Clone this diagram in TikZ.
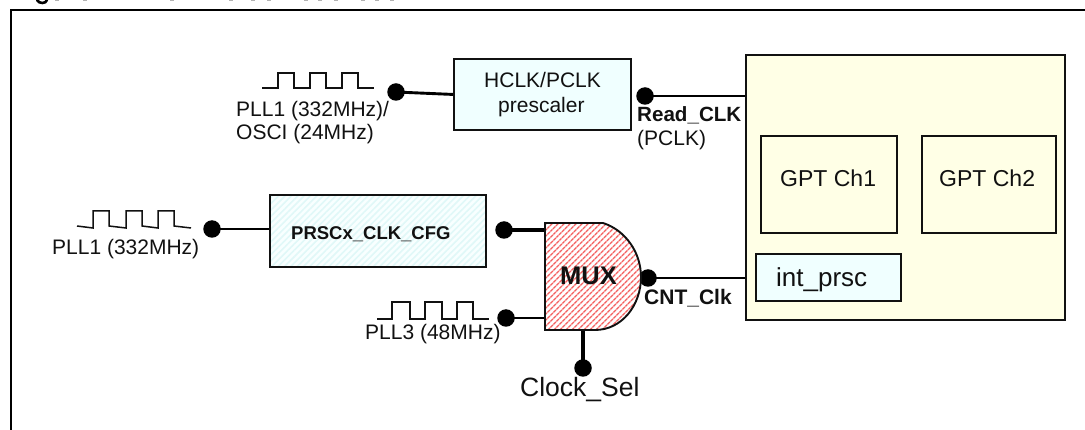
\documentclass[tikz,border=0pt]{standalone}
\usepackage{fontspec}
\setmainfont{Liberation Sans}
\usetikzlibrary{patterns.meta}
\definecolor{boxcyan}{HTML}{F0FFFF}
\definecolor{hatchcyan}{HTML}{E0F8F8}
\definecolor{boxyellow}{HTML}{FFFFE6}
\definecolor{hatchred}{HTML}{F4605F}
\definecolor{lineblack}{HTML}{111111}
\tikzset{
  x=1pt,y=-1pt,
  plainbox/.style={draw=lineblack,line width=1.9pt,inner sep=0pt,anchor=north west},
  dot/.style={circle,fill=black,inner sep=0pt,minimum size=17.5pt},
  wire/.style={line width=2.9pt,black},
  wave/.style={line width=1.5pt,lineblack},
  lbl/.style={inner sep=0pt,anchor=base west,text=lineblack,font=\fontsize{21}{24}\selectfont},
  blbl/.style={lbl,font=\fontsize{20.6}{24}\selectfont\bfseries},
}
\begin{document}
\begin{tikzpicture}
\useasboundingbox (0,0) rectangle (1085,430);
\clip (0,0) rectangle (1085,430);
% clipped remains of the caption line above the frame
\draw[line width=2.6pt,black,line cap=round] (37,0) .. controls (39,4) and (46,4) .. (47,0);
\foreach \tx in {57,85,172,231,253,269,306,320,336,363,377,392}
  \draw[line width=1.4pt,black!30] (\tx-2,0) -- (\tx+2,0);
% outer frame
\draw[line width=2.4pt,black] (11,431) -- (11,10) -- (1086,10);
% boxes
\node[plainbox,fill=boxyellow,minimum width=319pt,minimum height=265pt] (gpt) at (745,54) {};
\node[plainbox,minimum width=136pt,minimum height=97pt] (ch1) at (760,135) {};
\node[plainbox,minimum width=134pt,minimum height=97pt] (ch2) at (921,135) {};
\node[plainbox,fill=boxcyan,minimum width=145pt,minimum height=47pt] (prsc) at (755,253) {};
\node[plainbox,fill=boxcyan,minimum width=177pt,minimum height=71pt] (hclk) at (453,58) {};
\node[plainbox,preaction={fill=boxcyan!50!white},preaction={pattern={Lines[angle=45,distance=4.5pt,line width=1.6pt]},pattern color=hatchcyan},minimum width=216pt,minimum height=72pt] (cfg) at (269,194) {};
\node[inner sep=0pt,anchor=north west,minimum width=96pt,minimum height=107pt] (mux) at (545,223) {};
% dots
\node[dot] (d1) at (396,92) {};
\node[dot] (d2) at (645,96) {};
\node[dot] (d3) at (212,229) {};
\node[dot] (d4) at (504,230) {};
\node[dot] (d5) at (506,318) {};
\node[dot] (d6) at (648,278) {};
\node[dot] (d7) at (583,368) {};
% connectors
\draw[wire] (d1.center) -- (hclk.west);
\draw[wire] (d2.center) -- (gpt.west |- d2.center);
\draw[wire] (d3.center) -- (cfg.west |- d3.center);
\draw[wire,line width=3.6pt] (d4.center) -- (mux.west |- d4.center);
\draw[wire] (d5.center) -- (mux.west |- d5.center);
\draw[wire] (d6.center) -- (gpt.west |- d6.center);
\draw[wire,line width=4pt] (d7.center) -- (d7.center |- mux.south);
% mux body
\draw[line width=1.9pt,lineblack,preaction={fill=white},preaction={pattern={Lines[angle=45,distance=4pt,line width=1.5pt]},pattern color=hatchred}]
  (545,223) -- (603,223) .. controls (625,230) and (641,252) .. (641,277) .. controls (641,305) and (622,330) .. (595,330) -- (545,330) -- cycle;
% waves
\draw[wave] (262,88) -- (278,88) -- (278,73) -- (294,73) -- (294,88) -- (310,88) -- (310,73) -- (326,73) -- (326,88) -- (342,88) -- (342,73) -- (358,73) -- (358,88) -- (374,88);
\draw[wave] (77,226) -- (93,228) -- (93,211) -- (109,211) -- (109,226) -- (126,228) -- (126,211) -- (142,211) -- (142,226) -- (158,228) -- (158,211) -- (174,211) -- (174,226) -- (191,228);
\draw[wave] (377,319) -- (392,319) -- (392,302) -- (410,302) -- (410,319) -- (425,319) -- (425,302) -- (442,302) -- (442,319) -- (457,319) -- (457,302) -- (473,302) -- (473,319) -- (489,319);
% labels
\node[lbl] (t1) at (236,117) {PLL1 (332MHz)/};
\node[lbl] (t2) at (236,140) {OSCI (24MHz)};
\node[lbl] (t3) at (52,255) {PLL1 (332MHz)};
\node[lbl] (t4) at (365,340) {PLL3 (48MHz)};
\node[lbl] (t5) at (484,88) {HCLK/PCLK};
\node[lbl] (t6) at (498,113) {prescaler};
\node[blbl] (t7) at (637,122) {Read\_CLK};
\node[lbl] (t8) at (637,146) {(PCLK)};
\node[blbl,font=\fontsize{18.5}{22}\selectfont\bfseries] (t9) at (291,240) {PRSCx\_CLK\_CFG};
\node[blbl,font=\fontsize{25.5}{30}\selectfont\bfseries] (t10) at (560,285) {MUX};
\node[blbl,font=\fontsize{21}{24}\selectfont\bfseries] (t11) at (644,305) {CNT\_Clk};
\node[lbl,font=\fontsize{26.5}{30}\selectfont] (t12) at (520,397) {Clock\_Sel};
\node[lbl,font=\fontsize{23}{28}\selectfont] (t13) at (780,187) {GPT Ch1};
\node[lbl,font=\fontsize{23}{28}\selectfont] (t14) at (939,187) {GPT Ch2};
\node[lbl,font=\fontsize{26}{30}\selectfont] (t15) at (776,287) {int\_prsc};
\end{tikzpicture}
\end{document}
